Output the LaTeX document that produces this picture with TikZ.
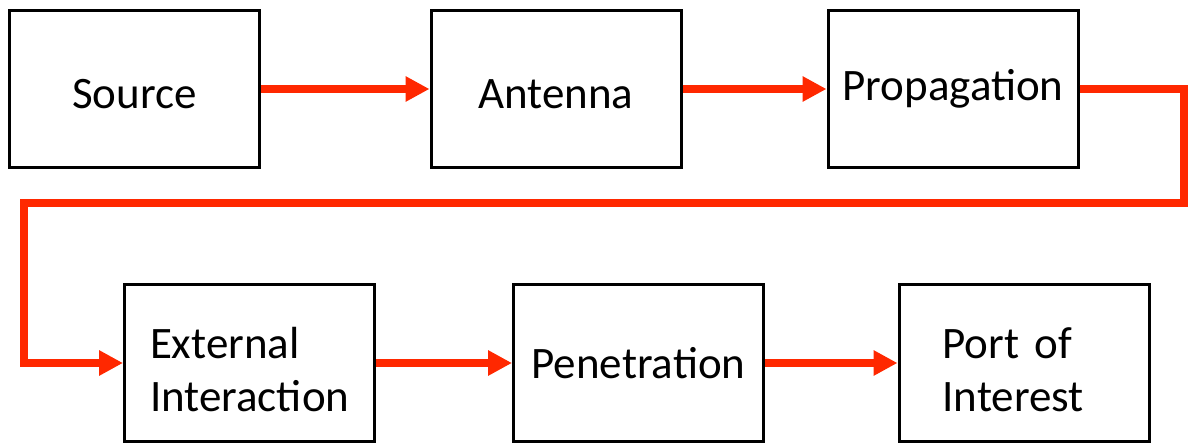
\documentclass[tikz,border=0pt]{standalone}
\usepackage{fontspec}
\setmainfont{Carlito}
\usetikzlibrary{arrows.meta}
\definecolor{flow}{RGB}{255,40,0}
\begin{document}
\begin{tikzpicture}[x=1pt,y=-1pt,
  blockbox/.style={draw=black,line width=3pt,minimum width=250pt,minimum height=157pt,
    inner sep=0pt,font=\fontsize{45}{53}\selectfont,fill=white},
  flowline/.style={draw=flow,line width=8pt,-{Triangle[length=24pt,width=24pt]}}]
\useasboundingbox (0,0) rectangle (1189,444);
\node[blockbox,text height=38pt,text depth=0pt] (src) at (134.5,89) {Source};
\node[blockbox,text height=38pt,text depth=0pt] (ant) at (556,89) {Antenna};
\node[blockbox] (prop) at (953,89) {Propagation};
\node[blockbox,text width=199pt,inner xsep=25.5pt,align=left] (ext) at (249.5,363) {\rule{0pt}{44pt}External\\Interaction};
\node[blockbox,text height=39pt,text depth=9pt] (pen) at (638.5,363) {Penetration};
\node[blockbox,text width=163pt,inner xsep=43.5pt,align=left] (port) at (1024,363) {\rule{0pt}{44pt}Port of\\Interest};
\coordinate (c1) at (1184,89);
\coordinate (c2) at (1184,203);
\coordinate (c3) at (24,203);
\coordinate (c4) at (24,363);
\draw[flowline] (src.east) -- (ant.west);
\draw[flowline] (ant.east) -- (prop.west);
\draw[flowline] (prop.east) -- (c1) -- (c2) -- (c3) -- (c4) -- (ext.west);
\draw[flowline] (ext.east) -- (pen.west);
\draw[flowline] (pen.east) -- (port.west);
\end{tikzpicture}
\end{document}
